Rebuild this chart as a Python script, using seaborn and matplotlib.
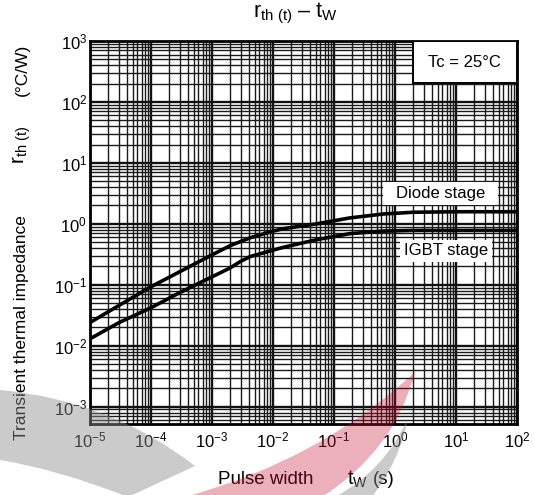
import numpy as np
import matplotlib
matplotlib.use("Agg")
import matplotlib.pyplot as plt
import seaborn as sns
from matplotlib.ticker import LogLocator, NullFormatter
from matplotlib.patches import Rectangle, PathPatch
from matplotlib.path import Path

# data (pulse width in s, r_th(t) in degC/W)
tw_diode = [1e-5, 3e-5, 1e-4, 3e-4, 1e-3, 2e-3, 4.2e-3, 1e-2, 1.45e-2, 5.2e-2, 0.18, 0.64, 2, 10, 100]
rth_diode = [0.024, 0.046, 0.093, 0.165, 0.31, 0.44, 0.59, 0.76, 0.83, 1.0, 1.25, 1.45, 1.55, 1.58, 1.58]

tw_igbt = [1e-5, 3e-5, 1e-4, 3e-4, 1e-3, 2e-3, 2.9e-3, 4.2e-3, 1e-2, 1.45e-2, 5.2e-2, 0.18, 0.64, 2, 10, 100]
rth_igbt = [0.013, 0.024, 0.042, 0.075, 0.135, 0.19, 0.24, 0.29, 0.37, 0.41, 0.55, 0.69, 0.76, 0.78, 0.78, 0.78]

x_ticks = [1e-5, 1e-4, 1e-3, 1e-2, 1e-1, 1e0, 1e1, 1e2]
y_ticks = [1e-3, 1e-2, 1e-1, 1e0, 1e1, 1e2, 1e3]

sns.set_style("white")
plt.rcParams['font.family'] = ['Liberation Sans', 'DejaVu Sans']
plt.rcParams['mathtext.fontset'] = 'custom'
plt.rcParams['mathtext.rm'] = 'Liberation Sans'
plt.rcParams['mathtext.it'] = 'Liberation Sans:italic'
plt.rcParams['mathtext.bf'] = 'Liberation Sans:bold'
plt.rcParams['text.color'] = 'black'
plt.rcParams['xtick.color'] = 'black'
plt.rcParams['ytick.color'] = 'black'

fig = plt.figure(figsize=(5.34, 4.95), dpi=100)
ax = fig.add_axes([90 / 534, 1 - 424 / 495, 427 / 534, 383 / 495])

sns.lineplot(x=tw_diode, y=rth_diode, ax=ax, color='black', lw=2.6, zorder=4)
sns.lineplot(x=tw_igbt, y=rth_igbt, ax=ax, color='black', lw=2.6, zorder=4)

ax.set_xscale('log')
ax.set_yscale('log')
ax.set_xlim(1e-5, 1e2)
ax.set_ylim(5.2e-4, 1e3)
ax.set_xticks(x_ticks)
ax.set_yticks(y_ticks)
ax.xaxis.set_minor_locator(LogLocator(base=10, subs=np.arange(2, 10), numticks=100))
ax.yaxis.set_minor_locator(LogLocator(base=10, subs=np.arange(2, 10), numticks=100))
ax.xaxis.set_minor_formatter(NullFormatter())
ax.yaxis.set_minor_formatter(NullFormatter())
ax.grid(which='major', color='#111111', lw=1.7)
ax.grid(which='minor', color='#1a1a1a', lw=1.0)
ax.tick_params(which='both', length=0, colors='black')
ax.tick_params(axis='x', labelsize=12, pad=5)
ax.tick_params(axis='y', labelsize=12, pad=2)
ax.set_xlabel('')
ax.set_ylabel('')
for s in ax.spines.values():
    s.set_color('black')
    s.set_linewidth(2)

# condition box and curve labels
ax.add_patch(Rectangle((0.756, 0.890), 0.244, 0.110, transform=ax.transAxes,
                       facecolor='white', edgecolor='black', lw=1.4, zorder=5))
ax.text(0.878, 0.945, 'Tc = 25°C', transform=ax.transAxes, ha='center', va='center',
        fontsize=12, zorder=6)
ax.add_patch(Rectangle((0.686, 0.572), 0.270, 0.060, transform=ax.transAxes,
                       facecolor='white', edgecolor='none', zorder=5))
ax.text(0.820, 0.603, 'Diode stage', transform=ax.transAxes, ha='center', va='center',
        fontsize=12, zorder=6)
ax.add_patch(Rectangle((0.726, 0.423), 0.215, 0.057, transform=ax.transAxes,
                       facecolor='white', edgecolor='none', zorder=5))
ax.text(0.834, 0.452, 'IGBT stage', transform=ax.transAxes, ha='center', va='center',
        fontsize=12, zorder=6)

fig.text(0.554, 0.972, r'$\mathrm{r_{th\ (t)}}$ – $\mathrm{t_W}$', ha='center', va='center', fontsize=15.5)

# y label in three spaced pieces
fig.text(0.041, 1 - 328 / 495, 'Transient thermal impedance', rotation=90,
         ha='center', va='center', fontsize=12.5)
fig.text(0.041, 1 - 145 / 495, r'$\mathrm{r_{th\ (t)}}$', rotation=90,
         ha='center', va='center', fontsize=15)
fig.text(0.041, 1 - 70 / 495, '(°C/W)', rotation=90,
         ha='center', va='center', fontsize=12.5)

# x label in three spaced pieces
fig.text(218 / 534, 1 - 479 / 495, 'Pulse width', ha='left', va='center', fontsize=13.5)
fig.text(358 / 534, 1 - 479 / 495, r'$\mathrm{t_W}$', ha='center', va='center', fontsize=14.5)
fig.text(384 / 534, 1 - 479 / 495, '(s)', ha='center', va='center', fontsize=13.5)

# watermark swooshes over the lower part of the picture
wax = fig.add_axes([0, 0, 1, 1], zorder=10)
wax.set_xlim(0, 534)
wax.set_ylim(495, 0)
wax.axis('off')
C3, L2 = Path.CURVE3, Path.LINETO
gray_band = Path([(0, 390), (110, 400), (195, 466), (128, 497), (60, 470), (0, 460), (0, 390)],
                 [Path.MOVETO, C3, C3, L2, C3, C3, Path.CLOSEPOLY])
pink_band = Path([(185, 497), (320, 460), (415, 372), (395, 450), (322, 497), (185, 497)],
                 [Path.MOVETO, C3, C3, C3, C3, Path.CLOSEPOLY])
gray_tip = Path([(408, 418), (385, 470), (335, 497), (372, 497), (400, 460), (408, 418)],
                [Path.MOVETO, C3, C3, L2, C3, C3])
wax.add_patch(PathPatch(gray_band, facecolor='#8c8c8c', edgecolor='none', alpha=0.45))
wax.add_patch(PathPatch(pink_band, facecolor='#c8102e', edgecolor='none', alpha=0.33))
wax.add_patch(PathPatch(gray_tip, facecolor='#8c8c8c', edgecolor='none', alpha=0.45))

fig.savefig('out.png', dpi=100)
